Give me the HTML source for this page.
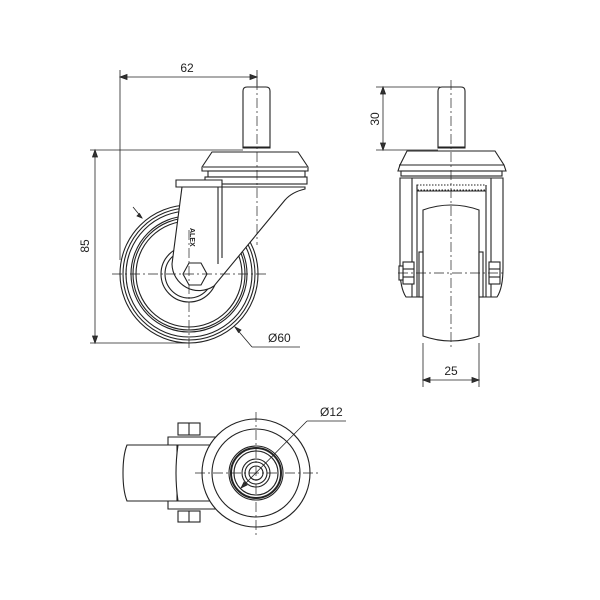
<!DOCTYPE html>
<html><head><style>body{margin:0;background:#fff}svg{display:block}text{font-family:"Liberation Sans",sans-serif;fill:#222}</style></head>
<body>
<svg width="600" height="600" viewBox="0 0 600 600" fill="none" stroke="#222" stroke-width="1.1">
<!-- ========== SIDE VIEW ========== -->
<g stroke-width="0.8">
<line x1="120" y1="70" x2="120" y2="260"/>
<line x1="257" y1="70" x2="257" y2="86"/>
<line x1="120" y1="77" x2="257" y2="77"/>
<path d="M120 77l7-2.5v5zM257 77l-7-2.5v5z" fill="#333"/>
<line x1="90" y1="150" x2="243" y2="150"/>
<line x1="90" y1="343" x2="189" y2="343"/>
<line x1="95" y1="150" x2="95" y2="343"/>
<path d="M95 150l-2.5 7h5zM95 343l-2.5-7h5z" fill="#333"/>
<line x1="235" y1="327" x2="252" y2="347"/>
<line x1="252" y1="347" x2="300" y2="347"/>
<path d="M235 327l6 3-2.5 2.5z" fill="#333"/>
<line x1="133" y1="207" x2="142" y2="218"/>
<path d="M142 218l-5-2 2.5-2.5z" fill="#333"/>
</g>
<text x="187" y="72" font-size="12" text-anchor="middle" stroke="none">62</text>
<text x="0" y="0" font-size="12" text-anchor="middle" stroke="none" transform="translate(89,246) rotate(-90)">85</text>
<text x="268" y="342" font-size="12" stroke="none">Ø60</text>
<path d="M243 148V91q0-4 4-4h19q4 0 4 4v57z" fill="#fff"/>
<line x1="243" y1="147" x2="270" y2="147"/>
<path d="M212 152h86l10 15v4h-106v-4z" fill="#fff"/>
<line x1="203" y1="167" x2="307" y2="167"/>
<rect x="208" y="171" width="97" height="6" fill="#fff"/>
<rect x="205" y="177" width="102" height="7" fill="#fff"/>
<g>
<circle cx="189" cy="274" r="69" fill="#fff"/>
<circle cx="189" cy="274" r="66"/>
<circle cx="189" cy="274" r="63"/>
<circle cx="189" cy="274" r="58"/>
<circle cx="189" cy="274" r="56"/>
<circle cx="189" cy="274" r="53"/>
<circle cx="189" cy="274" r="28"/>
<circle cx="189" cy="274" r="24"/>
</g>
<path d="M182 187L172 264A27 27 0 0 0 214 286L285 200Q292 192 305 189L305 187Z" fill="#fff"/>
<path d="M176 180h46v7h-46z" fill="#fff"/>
<line x1="218" y1="187" x2="218" y2="264"/>
<line x1="222" y1="187" x2="222" y2="258"/>
<polygon points="182,263 188,252 200,252 206,263 200,274 188,274" fill="#fff" transform="translate(1,11)"/>
<text x="0" y="0" font-size="7" font-weight="bold" stroke="none" transform="translate(190,228) rotate(90)">ALEX</text>
<g stroke-dasharray="10 3 2 3" stroke-width="0.7">
<line x1="257" y1="80" x2="257" y2="245"/>
<line x1="112" y1="274" x2="268" y2="274"/>
<line x1="189" y1="230" x2="189" y2="350"/>
</g>

<!-- ========== FRONT VIEW ========== -->
<g stroke-width="0.8">
<line x1="376" y1="87" x2="440" y2="87"/>
<line x1="376" y1="150" x2="438" y2="150"/>
<line x1="383" y1="87" x2="383" y2="150"/>
<path d="M383 87l-2.5 7h5zM383 150l-2.5-7h5z" fill="#333"/>
<line x1="423" y1="343" x2="423" y2="387"/>
<line x1="479" y1="343" x2="479" y2="387"/>
<line x1="423" y1="380" x2="479" y2="380"/>
<path d="M423 380l7-2.5v5zM479 380l-7-2.5v5z" fill="#333"/>
</g>
<text x="0" y="0" font-size="12" text-anchor="middle" stroke="none" transform="translate(379,119) rotate(-90)">30</text>
<text x="451" y="375" font-size="12" text-anchor="middle" stroke="none">25</text>
<path d="M438 148V91q0-4 4-4h19q4 0 4 4v57z" fill="#fff"/>
<line x1="438" y1="147" x2="465" y2="147"/>
<path d="M407 151h88l9 14l2 6h-108l2-6z" fill="#fff"/>
<line x1="399" y1="165" x2="504" y2="165"/>
<rect x="401" y="171" width="101" height="5" fill="#fff"/>
<path d="M400 178h103v90q0 20-6 29h-91q-6-9-6-29z" fill="#fff"/>
<line x1="412" y1="178" x2="412" y2="297"/>
<line x1="417" y1="185" x2="417" y2="297"/>
<line x1="486" y1="185" x2="486" y2="297"/>
<line x1="491" y1="178" x2="491" y2="297"/>
<rect x="417" y="185" width="69" height="5" stroke-dasharray="1.5 1.5"/>
<line x1="417" y1="191" x2="486" y2="191"/>
<path d="M423 210q28-10 56 0v126q-28 10-56 0z" fill="#fff"/>
<rect x="419" y="252" width="4" height="45" fill="#fff"/>
<rect x="479" y="252" width="4" height="45" fill="#fff"/>
<rect x="403" y="262" width="11" height="22" fill="#fff"/>
<rect x="399" y="266" width="4" height="14" fill="#fff"/>
<line x1="403" y1="269" x2="414" y2="269"/><line x1="403" y1="277" x2="414" y2="277"/>
<rect x="489" y="262" width="11" height="22" fill="#fff"/>
<line x1="489" y1="269" x2="500" y2="269"/><line x1="489" y1="277" x2="500" y2="277"/>
<g stroke-dasharray="10 3 2 3" stroke-width="0.7">
<line x1="451" y1="80" x2="451" y2="348"/>
<line x1="398" y1="273" x2="505" y2="273"/>
</g>

<!-- ========== BOTTOM VIEW ========== -->
<path d="M177 445h-50q-4 10-4 28t4 28h50z" fill="#fff"/>
<path d="M168 437h50v8h-50zM168 501h50v8h-50z" fill="#fff"/>
<path d="M178 445q-4 28 0 56h38v-56z" fill="#fff"/>
<rect x="178" y="423" width="22" height="12" fill="#fff"/>
<line x1="189" y1="423" x2="189" y2="435"/>
<rect x="178" y="511" width="22" height="11" fill="#fff"/>
<line x1="189" y1="511" x2="189" y2="522"/>
<circle cx="256" cy="473" r="54" fill="#fff"/>
<circle cx="256" cy="473" r="44"/>
<circle cx="256" cy="473" r="27"/>
<circle cx="256" cy="473" r="25" stroke-width="2"/>
<circle cx="256" cy="473" r="22"/>
<circle cx="256" cy="473" r="14"/>
<circle cx="256" cy="473" r="11"/>
<circle cx="256" cy="473" r="7"/>
<g stroke-dasharray="10 3 2 3" stroke-width="0.7">
<line x1="195" y1="473" x2="318" y2="473"/>
<line x1="256" y1="412" x2="256" y2="535"/>
</g>
<g stroke-width="0.8">
<line x1="241" y1="488" x2="307" y2="421"/>
<line x1="307" y1="421" x2="346" y2="421"/>
<path d="M241 488l3-6 3 3z" fill="#333"/>
</g>
<text x="320" y="416" font-size="12" stroke="none">Ø12</text>
</svg>
</body></html>
